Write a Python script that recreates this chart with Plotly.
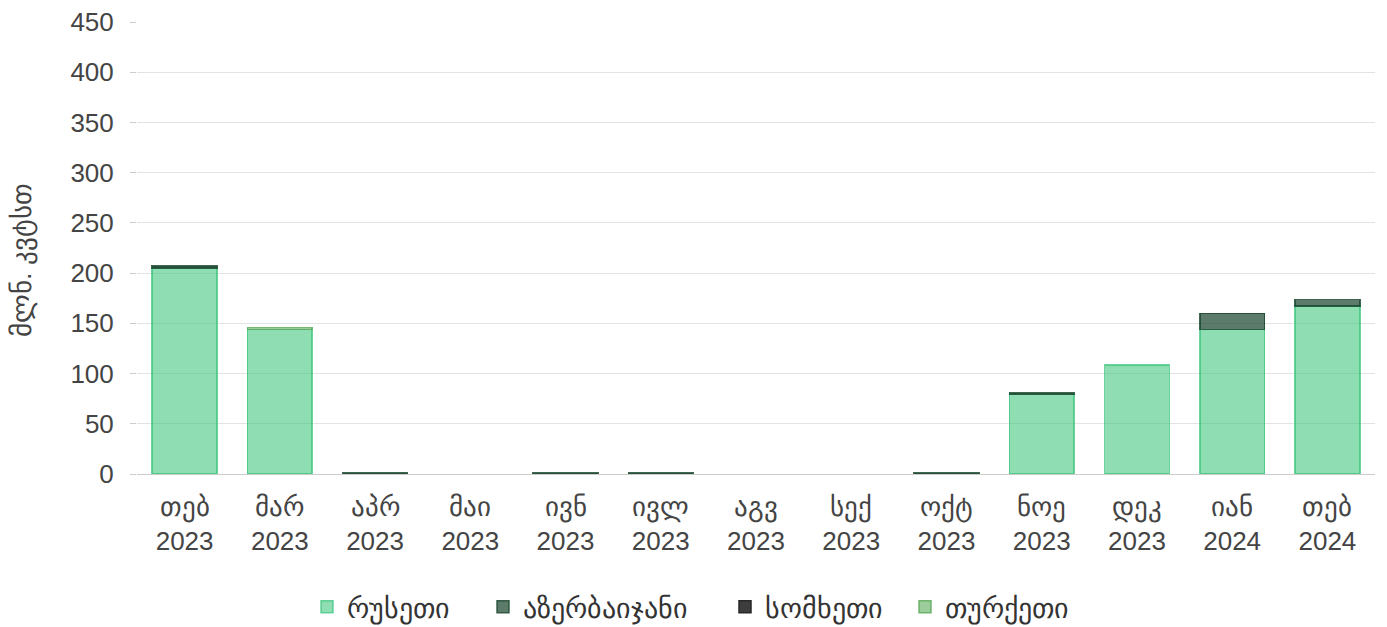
import plotly.graph_objects as go

months = ["თებ", "მარ", "აპრ", "მაი", "ივნ", "ივლ", "აგვ", "სექ", "ოქტ", "ნოე",
          "დეკ", "იან", "თებ"]
years = ["2023"] * 11 + ["2024"] * 2

# None = no value that month (avoids drawing empty outlined bars)
russia = [205, 144, None, None, None, None, None, None, None, 79.5, 108.5, 144, 167.5]
azerbaijan = [2.3, None, 0.9, None, 0.9, 0.9, None, None, 0.9, 1.5, None, 16, 6]
armenia = [None] * 13
turkey = [None, 1.7, None, None, None, None, None, None, None, None, None, None, None]

labels = [f"<span style='font-size:27px'>{m}</span><br>{y}" for m, y in zip(months, years)]
x_keys = [f"{m} {y}" for m, y in zip(months, years)]

series = [
    ("რუსეთი", russia, "rgba(60,196,124,0.58)", "rgba(60,196,124,0.75)"),
    ("აზერბაიჯანი", azerbaijan, "rgba(31,74,51,0.73)", "rgba(31,74,51,0.85)"),
    ("სომხეთი", armenia, "rgba(40,40,40,0.9)", "rgba(40,40,40,1)"),
    ("თურქეთი", turkey, "rgba(90,170,90,0.6)", "rgba(90,170,90,0.85)"),
]

# left edge (px) of each legend entry along the bottom row
legend_left = [307, 483, 725, 905]

fig = go.Figure()
legend_layout = {}
for i, (name, vals, fill, edge) in enumerate(series):
    key = f"legend{i + 1}"
    fig.add_trace(go.Bar(
        x=x_keys, y=vals, name=name, legend=key, showlegend=True,
        marker=dict(color=fill, line=dict(color=edge, width=1.5)),
    ))
    legend_layout[key] = dict(
        orientation="h", xref="container", x=legend_left[i] / 1387, xanchor="left",
        yref="container", y=0.032, yanchor="middle", visible=True,
        font=dict(size=28, color="#333"), bgcolor="rgba(0,0,0,0)",
    )

font = "Liberation Sans, Arial, sans-serif"
fig.update_layout(
    barmode="stack",
    bargap=0.32,
    showlegend=True,
    width=1387, height=627,
    margin=dict(l=137, r=12, t=22, b=153),
    plot_bgcolor="white", paper_bgcolor="white",
    font=dict(family=font, size=26, color="#444"),
    xaxis=dict(showgrid=False, showline=True, linecolor="#cccccc", linewidth=1,
               ticks="", automargin=False, ticklabelstandoff=10,
               tickmode="array", tickvals=x_keys, ticktext=labels,
               tickfont=dict(size=26, color="#444")),
    yaxis=dict(range=[0, 450], dtick=50, showgrid=True, gridcolor="#e3e3e3",
               gridwidth=1, zeroline=False, ticks="outside", ticklen=6,
               tickcolor="#cccccc", ticklabelstandoff=11, automargin=False,
               tickfont=dict(size=26, color="#444")),
    annotations=[dict(text="მლნ. კვტსთ", textangle=-90, showarrow=False,
                      xref="paper", yref="paper", x=0, y=0.5,
                      xanchor="center", yanchor="middle",
                      xshift=-115, yshift=-12,
                      font=dict(size=27, color="#444"))],
    **legend_layout,
)

fig.write_html("out.html")
